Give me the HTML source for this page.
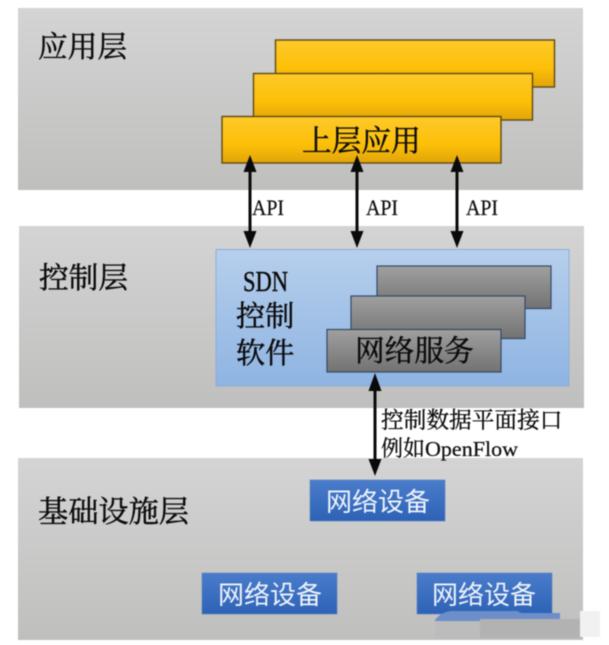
<!DOCTYPE html>
<html><head><meta charset="utf-8">
<style>
html,body{margin:0;padding:0;background:#fff;width:609px;height:645px;overflow:hidden}
svg{display:block;filter:blur(0.5px)}
.s{font-family:"Liberation Serif","Noto Serif CJK SC",serif;fill:#0c0c0c;stroke:#0c0c0c;stroke-width:.45px}
.w{font-family:"Liberation Sans","Noto Sans CJK SC",sans-serif;fill:#eef3fb;font-size:26px}
.m{font-family:"Liberation Serif","Noto Serif CJK SC",serif;fill:#101010;stroke:#101010;stroke-width:.25px}
</style></head><body>
<svg width="609" height="645" viewBox="0 0 609 645" xmlns="http://www.w3.org/2000/svg">
<defs>
<linearGradient id="g" x1="0" y1="0" x2="0" y2="1"><stop offset="0" stop-color="#d5d4d4"/><stop offset="1" stop-color="#bfbfbe"/></linearGradient>
<linearGradient id="y" x1="0" y1="0" x2="0" y2="1"><stop offset="0" stop-color="#fec92a"/><stop offset=".6" stop-color="#fdc008"/><stop offset="1" stop-color="#e0a40a"/></linearGradient>
<linearGradient id="b" x1="0" y1="0" x2="0" y2="1"><stop offset="0" stop-color="#b6cfec"/><stop offset="1" stop-color="#8fb4e3"/></linearGradient>
<linearGradient id="k" x1="0" y1="0" x2="0" y2="1"><stop offset="0" stop-color="#a0a0a0"/><stop offset="1" stop-color="#727272"/></linearGradient>
<linearGradient id="d" x1="0" y1="0" x2="0" y2="1"><stop offset="0" stop-color="#4a7ccb"/><stop offset="1" stop-color="#2d62b6"/></linearGradient>
</defs>

<rect x="18" y="8" width="565" height="182" fill="url(#g)"/>
<rect x="19" y="226" width="565" height="182" fill="url(#g)"/>
<rect x="18" y="458" width="565" height="182" fill="url(#g)"/>

<text class="s" x="38" y="57" font-size="29.7">应用层</text>
<text class="s" x="39" y="288" font-size="29.7">控制层</text>
<text class="s" x="38" y="522" font-size="30.2">基础设施层</text>

<g stroke="#5e4a14" stroke-width="1.4" fill="url(#y)">
<rect x="275.5" y="40" width="279" height="47"/>
<rect x="253.5" y="73.5" width="279" height="46.5"/>
<rect x="222" y="116.5" width="279" height="46.5"/>
</g>
<text class="s" x="302" y="151" font-size="29.7">上层应用</text>

<rect x="216" y="249.5" width="353" height="136.5" fill="url(#b)" stroke="#8eaed6" stroke-width="1"/>
<text class="s" x="243" y="291" font-size="29" textLength="45" lengthAdjust="spacingAndGlyphs">SDN</text>
<text class="s" x="236" y="326" font-size="29.2">控制</text>
<text class="s" x="236" y="363" font-size="29.2">软件</text>

<g stroke="#334a66" stroke-width="1.2" fill="url(#k)">
<rect x="377" y="266" width="174" height="42.5"/>
<rect x="351" y="296" width="174" height="42.5"/>
<rect x="327" y="329.5" width="174" height="42.5"/>
</g>
<text class="s" x="355" y="361" font-size="29.7">网络服务</text>

<g stroke="#0a0a0a" stroke-width="3" fill="none">
<line x1="250" y1="170" x2="250" y2="233"/>
<line x1="357" y1="170" x2="357" y2="233"/>
<line x1="457" y1="170" x2="457" y2="233"/>
<line x1="375" y1="388" x2="375" y2="462"/>
</g>
<g fill="#0a0a0a">
<path d="M250 155l-6.5 17h13z M250 248l-6.5 -17h13z"/>
<path d="M357 155l-6.5 17h13z M357 248l-6.5 -17h13z"/>
<path d="M457 155l-6.5 17h13z M457 248l-6.5 -17h13z"/>
<path d="M375 373l-6.5 18h13z M375 476l-6.5 -17h13z"/>
</g>

<text class="m" x="252" y="215" font-size="22" textLength="32" lengthAdjust="spacingAndGlyphs">API</text>
<text class="m" x="366" y="215" font-size="22" textLength="32" lengthAdjust="spacingAndGlyphs">API</text>
<text class="m" x="466" y="215" font-size="22" textLength="32" lengthAdjust="spacingAndGlyphs">API</text>

<text class="s" x="381" y="428" font-size="22.7" style="stroke-width:.3px">控制数据平面接口</text>
<text class="s" x="381" y="456" font-size="22" style="stroke-width:.3px">例如</text>
<text class="m" x="425" y="456" font-size="21" textLength="93" lengthAdjust="spacingAndGlyphs">OpenFlow</text>

<g fill="url(#d)" stroke="#5b83c0" stroke-width=".6">
<rect x="310" y="480" width="135" height="41"/>
<rect x="202" y="573" width="135" height="41"/>
<rect x="417" y="573" width="135" height="41"/>
</g>
<text class="w" x="326" y="511">网络设备</text>
<text class="w" x="218" y="604">网络设备</text>
<text class="w" x="432" y="604">网络设备</text>

<path d="M435 620q6-8 16-9h66l4 2h39v8h-125z" fill="#6c8ec9"/>
<rect x="480" y="619" width="103" height="19" fill="#b2b2b2"/>
<rect x="435" y="621" width="45" height="17" fill="#bcbcbc"/>
<rect x="580" y="611" width="20" height="26" fill="#f1f1f1"/>
</svg>
</body></html>
